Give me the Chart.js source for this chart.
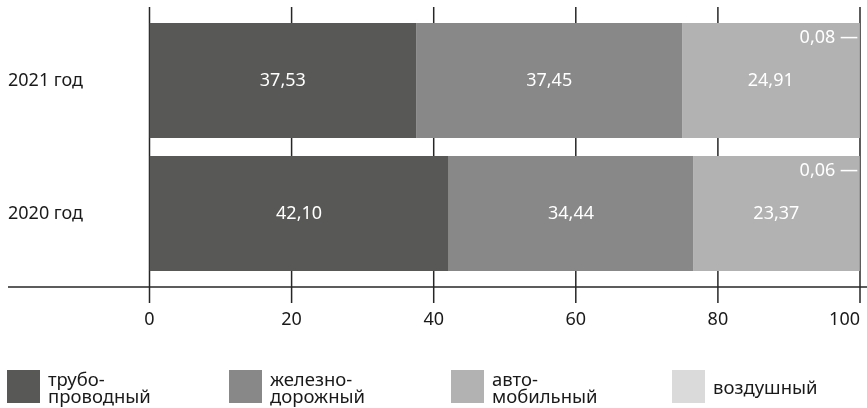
<!DOCTYPE html>
<html lang="ru">
<head>
<meta charset="utf-8">
<script src="https://cdn.jsdelivr.net/npm/chart.js@4"></script>
<style>
  html, body { margin: 0; padding: 0; background: #fff; }
  #wrap { position: relative; width: 867px; height: 408px; overflow: hidden; }
  #chart { position: absolute; left: 0; top: 0; }
  .legend-item { position: absolute; top: 370px; height: 33px; display: flex; align-items: center; }
  .legend-item .sw { width: 33px; height: 33px; flex: none; }
  .legend-item .tx { margin-left: 8px; font: 18.5px "Noto Sans", sans-serif; line-height: 17px; color: #1a1a1a; }
</style>
</head>
<body>
<div id="wrap">
  <canvas id="chart" width="867" height="408"></canvas>
  <div id="legend"></div>
</div>
<script>
// Структура грузооборота по видам транспорта, %
const categories = ['2021 год', '2020 год'];
const pipeline = [37.53, 42.10];
const railway = [37.45, 34.44];
const road = [24.91, 23.37];
const air = [0.08, 0.06];
const tickValues = [0, 20, 40, 60, 80, 100];

const seriesNames = [['трубо-', 'проводный'], ['железно-', 'дорожный'], ['авто-', 'мобильный'], ['воздушный']];
const seriesColors = ['#585856', '#888888', '#b2b2b2', '#dadada'];
const legendLeft = [7, 229, 451, 672];

const FONT = '"Noto Sans", sans-serif';
const fmt = v => v.toFixed(2).replace('.', ',');

// Сетка, подписи осей и категорий
const frame = {
  id: 'frame',
  beforeDatasetsDraw(chart) {
    const { ctx, scales: { x } } = chart;
    ctx.save();
    ctx.strokeStyle = '#262626';
    ctx.lineWidth = 1.5;
    tickValues.forEach(v => {
      const px = x.getPixelForValue(v);
      ctx.beginPath();
      ctx.moveTo(px, 7);
      ctx.lineTo(px, 303);
      ctx.stroke();
    });
    ctx.beginPath();
    ctx.moveTo(8, 287);
    ctx.lineTo(867, 287);
    ctx.stroke();
    ctx.restore();
  },
  afterDatasetsDraw(chart) {
    const { ctx, scales: { x, y } } = chart;
    ctx.save();
    ctx.fillStyle = '#1a1a1a';
    ctx.font = '18px ' + FONT;
    ctx.textBaseline = 'middle';
    tickValues.forEach((v, i) => {
      const px = x.getPixelForValue(v);
      ctx.textAlign = i === tickValues.length - 1 ? 'right' : 'center';
      ctx.fillText(String(v), px, 320);
    });
    ctx.textAlign = 'left';
    categories.forEach((c, i) => {
      ctx.fillText(c, 8, y.getPixelForValue(i));
    });

    // значения на сегментах
    ctx.fillStyle = '#ffffff';
    chart.data.datasets.forEach((ds, di) => {
      const meta = chart.getDatasetMeta(di);
      meta.data.forEach((bar, i) => {
        const v = ds.data[i];
        if (di === 3) {
          const top = bar.y - bar.height / 2;
          ctx.textAlign = 'right';
          ctx.fillText(fmt(v) + ' —', x.getPixelForValue(100) - 2, top + 15);
        } else {
          ctx.textAlign = 'center';
          ctx.fillText(fmt(v), (bar.x + bar.base) / 2, bar.y);
        }
      });
    });
    ctx.restore();
  }
};

const values = [pipeline, railway, road, air];

new Chart(document.getElementById('chart'), {
  type: 'bar',
  data: {
    labels: categories,
    datasets: values.map((d, i) => ({
      label: seriesNames[i].join(''),
      data: d,
      backgroundColor: seriesColors[i],
      borderWidth: 0,
      categoryPercentage: 1,
      barPercentage: 0.865
    }))
  },
  options: {
    indexAxis: 'y',
    responsive: false,
    animation: false,
    devicePixelRatio: 1,
    layout: { padding: { left: 149.5, right: 7, top: 14, bottom: 128 } },
    scales: {
      x: { stacked: true, min: 0, max: 100, display: false, ticks: { stepSize: 20 } },
      y: { stacked: true, display: false }
    },
    plugins: { legend: { display: false }, tooltip: { enabled: false } }
  },
  plugins: [frame]
});

// Легенда
const legend = document.getElementById('legend');
seriesNames.forEach((name, i) => {
  const item = document.createElement('div');
  item.className = 'legend-item';
  item.style.left = legendLeft[i] + 'px';
  const sw = document.createElement('div');
  sw.className = 'sw';
  sw.style.background = seriesColors[i];
  const tx = document.createElement('div');
  tx.className = 'tx';
  tx.innerHTML = name.join('<br>');
  item.appendChild(sw);
  item.appendChild(tx);
  legend.appendChild(item);
});
</script>
</body>
</html>
